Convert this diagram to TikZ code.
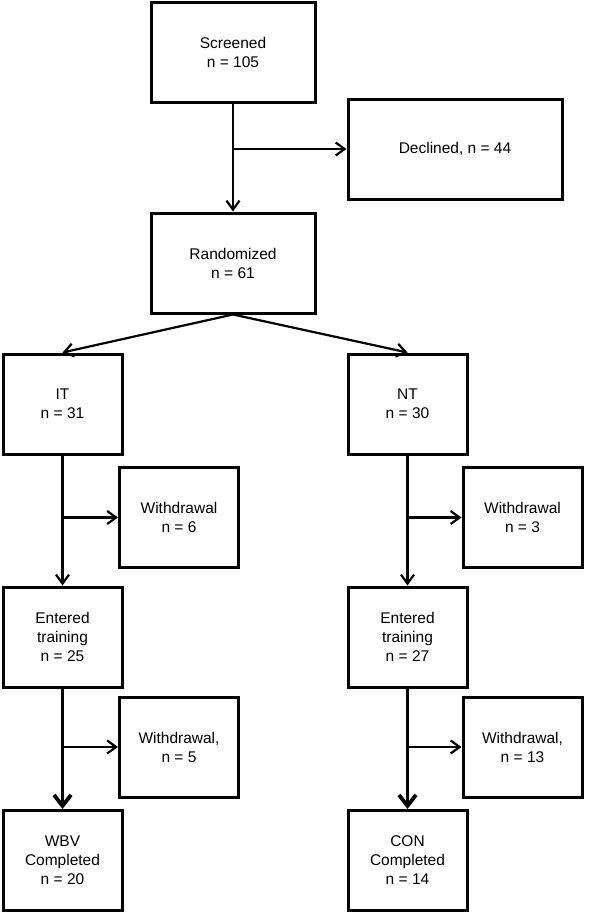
\documentclass[tikz,border=0pt]{standalone}
\usepackage{fontspec}
\setmainfont{Liberation Sans}
\usetikzlibrary{arrows.meta,positioning,calc}

\begin{document}
\begin{tikzpicture}[
  x=1pt, y=-1pt,
  stage/.style={draw, line width=3pt, minimum width=119pt, minimum height=100pt,
                inner sep=2pt, align=center, font=\fontsize{15.5}{19}\selectfont},
  widestage/.style={stage, minimum width=164pt},
  flow/.style={line width=2.2pt, -{Straight Barb[length=9pt, width=13pt]}},
  mainflow/.style={line width=3.8pt, -{Straight Barb[length=11pt, width=17pt]}}
]
\useasboundingbox (0,0) rectangle (605,921);

% Enrolment
\node[widestage] (scr) at (233,52.5) {Screened\\n = 105};
\node[stage, minimum width=214pt] (dec) at (455,149) {Declined, n = 44};
\node[widestage] (rnd) at (233,263) {Randomized\\n = 61};

% IT arm
\node[stage] (it) at (62.5,404) {IT\\n = 31};
\node[stage] (itw) at (179,517.5) {Withdrawal\\n = 6};
\node[stage] (itent) at (62.5,637) {Entered\\training\\n = 25};
\node[stage] (itw2) at (179,747) {Withdrawal,\\n = 5};
\node[stage] (wbv) at (62.5,860.5) {WBV\\Completed\\n = 20};

% NT arm
\node[stage] (nt) at (407.5,404) {NT\\n = 30};
\node[stage] (ntw) at (522.5,517.5) {Withdrawal\\n = 3};
\node[stage] (ntent) at (407.5,637) {Entered\\training\\n = 27};
\node[stage] (ntw2) at (522.5,747) {Withdrawal,\\n = 13};
\node[stage] (con) at (407.5,860.5) {CON\\Completed\\n = 14};

% Connectors
\draw[flow] (scr) -- (rnd);
\draw[flow] (scr.south |- dec.west) -- (dec.west);
\draw[flow] (rnd.south) -- (it.north);
\draw[flow] (rnd.south) -- (nt.north);

\draw[flow] (it) -- (itent);
\draw[flow] (it.south |- itw.west) -- (itw.west);
\draw[mainflow] (itent) -- (wbv);
\draw[flow] (itent.south |- itw2.west) -- (itw2.west);

\draw[flow] (nt) -- (ntent);
\draw[flow] (nt.south |- ntw.west) -- (ntw.west);
\draw[mainflow] (ntent) -- (con);
\draw[flow] (ntent.south |- ntw2.west) -- (ntw2.west);

\end{tikzpicture}
\end{document}
